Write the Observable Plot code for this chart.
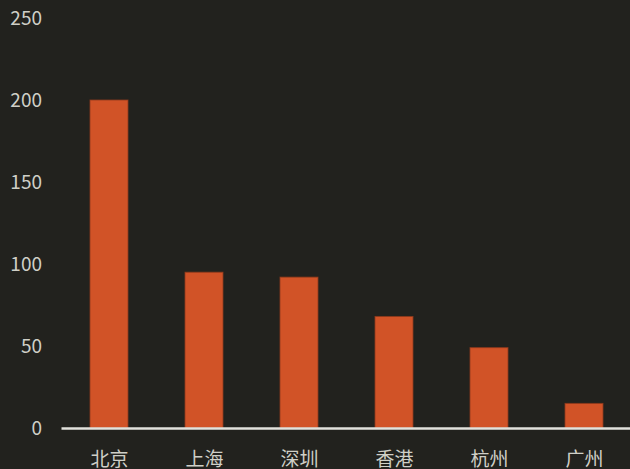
<!DOCTYPE html>
<html>
<head>
<meta charset="utf-8">
<script src="https://cdn.jsdelivr.net/npm/d3@7"></script>
<script src="https://cdn.jsdelivr.net/npm/@observablehq/plot@0.6"></script>
<style>
  html, body { margin: 0; padding: 0; background: #22221e; }
  #chart svg { display: block; }
</style>
</head>
<body>
<div id="chart"></div>
<script>
const cities = ["北京", "上海", "深圳", "香港", "杭州", "广州"];
const values = [200, 95, 92, 68, 49, 15];
const yTicks = [0, 50, 100, 150, 200, 250];

const data = cities.map((c, i) => ({city: c, value: values[i]}));

const chart = Plot.plot({
  width: 630,
  height: 469,
  marginLeft: 61.5,
  marginRight: -1.5,
  marginTop: 18,
  marginBottom: 41,
  style: {
    background: "#22221e",
    color: "#cfcfc7",
    fontFamily: "'Noto Sans CJK SC', 'Noto Sans', sans-serif",
    fontSize: "18px",
    overflow: "visible"
  },
  x: {domain: cities, paddingInner: 0.6, paddingOuter: 0.3, label: null},
  y: {domain: [0, 250], ticks: yTicks, label: null},
  marks: [
    Plot.barY(data, {x: "city", y: "value", fill: "#d15327", stroke: "#8e3a1c", strokeWidth: 1, strokeOpacity: 0.8}),
    Plot.ruleY([0], {stroke: "#e2e2dc", strokeWidth: 2.5}),
    Plot.axisY({ticks: yTicks, tickSize: 0, tickPadding: 20, label: null, fill: "#cfcfc7", fontSize: 19}),
    Plot.axisX({tickSize: 0, tickPadding: 24, label: null, fill: "#cfcfc7", fontSize: 19})
  ]
});
document.getElementById("chart").appendChild(chart);
</script>
</body>
</html>
